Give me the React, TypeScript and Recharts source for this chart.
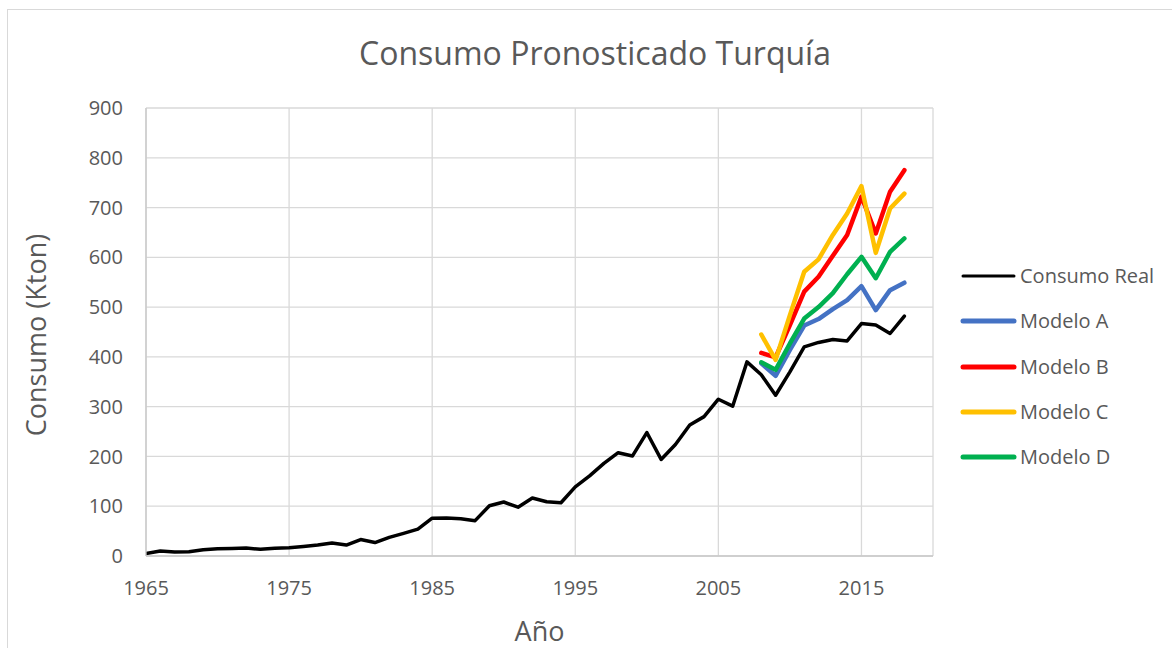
import React from 'react';
import { LineChart, Line, XAxis, YAxis, CartesianGrid, Legend, Label } from 'recharts';

const years: number[] = [
  1965, 1966, 1967, 1968, 1969, 1970, 1971, 1972, 1973, 1974,
  1975, 1976, 1977, 1978, 1979, 1980, 1981, 1982, 1983, 1984,
  1985, 1986, 1987, 1988, 1989, 1990, 1991, 1992, 1993, 1994,
  1995, 1996, 1997, 1998, 1999, 2000, 2001, 2002, 2003, 2004,
  2005, 2006, 2007, 2008, 2009, 2010, 2011, 2012, 2013, 2014,
  2015, 2016, 2017, 2018,
];

const consumoReal: number[] = [
  5, 10, 8, 8.5, 12.5, 14.5, 15, 16, 13.5, 15.5,
  16.5, 19, 22, 26, 22, 33, 27, 37.5, 45.5, 54,
  76, 76.5, 75, 71, 101, 108.5, 98, 116.5, 109, 107,
  139, 161, 186, 207.5, 201, 248, 194, 224, 263, 280,
  315, 301, 390, 364, 323, 370, 420, 429, 435, 432,
  467, 464, 447, 482,
];

const modelYears: number[] = [2008, 2009, 2010, 2011, 2012, 2013, 2014, 2015, 2016, 2017, 2018];
const modeloA: number[] = [387, 362, 414, 463, 476, 496, 514, 542, 494, 534, 549];
const modeloB: number[] = [408, 399, 464, 531, 561, 603, 645, 722, 648, 732, 775];
const modeloC: number[] = [445, 394, 484, 571, 596, 645, 688, 743, 609, 698, 728];
const modeloD: number[] = [389, 374, 427, 477, 500, 528, 566, 601, 558, 611, 638];

const xTicks: number[] = [1965, 1975, 1985, 1995, 2005, 2015];
const yTicks: number[] = [0, 100, 200, 300, 400, 500, 600, 700, 800, 900];

const seriesKeys = ['real', 'a', 'b', 'c', 'd'];
const seriesNames = ['Consumo Real', 'Modelo A', 'Modelo B', 'Modelo C', 'Modelo D'];
const seriesColors = ['#000000', '#4472C4', '#FF0000', '#FFC000', '#00B050'];
const seriesWidths = [3.5, 4.5, 4.5, 4.5, 4.5];

const modelSeries = [modeloA, modeloB, modeloC, modeloD];

const data = years.map((year, i) => {
  const row: Record<string, number | null> = { year, real: consumoReal[i] };
  const mi = modelYears.indexOf(year);
  ['a', 'b', 'c', 'd'].forEach((k, j) => {
    row[k] = mi >= 0 ? modelSeries[j][mi] : null;
  });
  return row;
});

const FONT = '"Open Sans", "Noto Sans", sans-serif';
const TEXT = '#595959';

const LegendContent = () => (
  <div style={{ width: 200, fontFamily: FONT }}>
    {seriesNames.map((name, i) => (
      <div key={name} style={{ height: 45.3, display: 'flex', alignItems: 'center' }}>
        <svg width={60} height={10} style={{ display: 'block' }}>
          <line
            x1={3}
            y1={5}
            x2={54}
            y2={5}
            stroke={seriesColors[i]}
            strokeWidth={i === 0 ? 3 : 5}
            strokeLinecap="round"
          />
        </svg>
        <span style={{ fontSize: 20, color: TEXT, lineHeight: '24px' }}>{name}</span>
      </div>
    ))}
  </div>
);

export default function App() {
  return (
    <div
      style={{
        position: 'fixed',
        left: 0,
        top: 0,
        width: 1172,
        height: 648,
        overflow: 'hidden',
        background: '#ffffff',
      }}
    >
      <div
        style={{
          position: 'absolute',
          left: 7,
          top: 9,
          width: 1190,
          height: 700,
          border: '1px solid #d9d9d9',
        }}
      />
      <div style={{ position: 'absolute', left: 8, top: 8 }}>
        <LineChart
          width={1164}
          height={640}
          data={data}
          margin={{ top: 100, right: 39, bottom: 0, left: 0 }}
        >
          <text
            x={587}
            y={57}
            textAnchor="middle"
            fill={TEXT}
            style={{ fontSize: 32, fontFamily: FONT, fontWeight: 400 }}
          >
            Consumo Pronosticado Turquía
          </text>
          <CartesianGrid stroke="#d9d9d9" strokeWidth={1.3} />
          <XAxis
            dataKey="year"
            type="number"
            domain={[1965, 2020]}
            ticks={xTicks}
            allowDataOverflow
            tickLine={false}
            tickSize={0}
            tickMargin={25}
            height={92}
            axisLine={{ stroke: '#c8c8c8', strokeWidth: 1.3 }}
            tick={{ fill: TEXT, fontSize: 20, fontFamily: FONT }}
          >
            <Label
              content={({ viewBox }: any) => (
                <text
                  x={viewBox.x + viewBox.width / 2}
                  y={viewBox.y + 74}
                  textAnchor="middle"
                  dominantBaseline="central"
                  fill={TEXT}
                  style={{ fontSize: 27, fontFamily: FONT }}
                >
                  Año
                </text>
              )}
            />
          </XAxis>
          <YAxis
            type="number"
            domain={[0, 900]}
            ticks={yTicks}
            width={138}
            tickLine={false}
            tickSize={0}
            tickMargin={23}
            axisLine={{ stroke: '#c8c8c8', strokeWidth: 1.3 }}
            tick={{ fill: TEXT, fontSize: 20, fontFamily: FONT }}
          >
            <Label
              content={({ viewBox }: any) => {
                const cx = viewBox.x + 27;
                const cy = viewBox.y + viewBox.height / 2 + 3;
                return (
                  <text
                    x={cx}
                    y={cy}
                    textAnchor="middle"
                    dominantBaseline="central"
                    transform={`rotate(-90, ${cx}, ${cy})`}
                    fill={TEXT}
                    style={{ fontSize: 27, fontFamily: FONT }}
                  >
                    Consumo (Kton)
                  </text>
                );
              }}
            />
          </YAxis>
          <Legend
            layout="vertical"
            align="right"
            verticalAlign="top"
            content={<LegendContent />}
            wrapperStyle={{ left: 952, top: 245.5, width: 200 }}
          />
          {seriesKeys.map((k, i) => (
            <Line
              key={k}
              type="linear"
              dataKey={k}
              name={seriesNames[i]}
              stroke={seriesColors[i]}
              strokeWidth={seriesWidths[i]}
              strokeLinejoin="round"
              strokeLinecap="round"
              dot={false}
              activeDot={false}
              connectNulls={false}
              isAnimationActive={false}
            />
          ))}
        </LineChart>
      </div>
    </div>
  );
}
